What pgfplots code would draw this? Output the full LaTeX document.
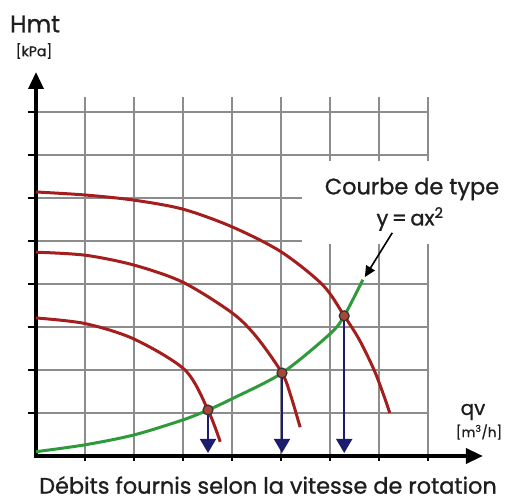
\documentclass[border=0pt]{standalone}
\usepackage{pgfplots}
\pgfplotsset{compat=1.18}
\usepackage{fontspec}
\setmainfont{Poppins}[FakeBold=1]
\usetikzlibrary{arrows.meta}
\definecolor{gridgray}{HTML}{8C8C8C}
\definecolor{pumpred}{HTML}{A51E1E}
\definecolor{curvegreen}{HTML}{2E9A3A}
\definecolor{navyarrow}{HTML}{1C1C6E}
\definecolor{ptfill}{HTML}{A6473A}
\definecolor{txt}{HTML}{1E1E1E}
\begin{document}
\begin{tikzpicture}[x=1bp,y=1bp]
\useasboundingbox (0,0) rectangle (509,502);
\begin{axis}[
  at={(36bp,46bp)}, anchor=south west, scale only axis,
  x=49bp, y=43bp, xmin=0, xmax=9.2, ymin=0, ymax=9,
  hide axis, clip=false,
]
% grid
\pgfplotsinvokeforeach{1,...,8}{
  \draw[gridgray, line width=2.2bp] (0,#1) -- (8,#1);
  \draw[gridgray, line width=2.2bp] (#1,0) -- (#1,8.35);
  \draw[black, line width=2.6bp] (-0.17,#1) -- (0,#1);
  \draw[black, line width=2.6bp] (#1,-0.12) -- (#1,0);
}
\fill[white] (5.43,4.92) rectangle (8.3,6.85);
% axes
\draw[black, line width=3.6bp, -{Triangle[length=17bp,width=15bp]}] (0,-0.04) -- (0,8.93);
\draw[black, line width=3.6bp, -{Triangle[length=17bp,width=15bp]}] (-0.04,0) -- (9.12,0);
% pump curves
\addplot[pumpred, line width=3bp, smooth] coordinates {(0,6.14)(1,6.07)(2,5.95)(3,5.74)(4,5.33)(5,4.75)(5.85,3.98)(6.29,3.26)(6.6,2.7)(6.9,2.0)(7.1,1.4)(7.22,1.0)};
\addplot[pumpred, line width=3bp, smooth] coordinates {(0,4.74)(1,4.67)(2,4.44)(3,4.04)(4,3.33)(4.5,2.77)(5.02,1.93)(5.2,1.4)(5.39,0.67)};
\addplot[pumpred, line width=3bp, smooth] coordinates {(0,3.21)(1,3.08)(2,2.72)(3.04,2.0)(3.51,1.07)(3.76,0.33)};
% system curve
\addplot[curvegreen, line width=3bp, smooth] coordinates {(0,0.1)(1,0.26)(2,0.49)(3,0.84)(3.51,1.07)(4,1.33)(5.02,1.93)(6,2.84)(6.29,3.26)(6.67,4.1)};
% flow arrows
\addplot[navyarrow, line width=1.8bp, -{Triangle[length=14bp,width=16bp]}] coordinates {(3.51,1.07)(3.51,0.07)};
\addplot[navyarrow, line width=1.8bp, -{Triangle[length=14bp,width=16bp]}] coordinates {(5.02,1.93)(5.02,0.07)};
\addplot[navyarrow, line width=1.8bp, -{Triangle[length=14bp,width=16bp]}] coordinates {(6.29,3.26)(6.29,0.07)};
% operating points
\addplot[only marks, mark=*, mark size=5bp, mark options={fill=ptfill, draw=black!80, line width=1.2bp}] coordinates {(3.51,1.07)(5.02,1.93)(6.29,3.26)};
% annotation arrow
\draw[black, line width=1.6bp, -{Triangle[length=11bp,width=10bp]}] (7.27,5.19) -- (6.71,4.16);
\end{axis}
\node[txt, font=\fontsize{24}{26}\selectfont] at (35,478) {Hmt};
\node[txt, font=\fontsize{14}{16}\selectfont] at (34,451) {[kPa]};
\node[txt, font=\fontsize{22.5}{25}\selectfont] at (412,313) {Courbe de type};
\node[txt, font=\fontsize{21}{24}\selectfont] at (410,283) {y\,=\,ax\textsuperscript{2}};
\node[txt, font=\fontsize{20}{22}\selectfont] at (473,90) {qv};
\node[txt, font=\fontsize{13.5}{15}\selectfont] at (479,70) {[m\textsuperscript{3}/h]};
\node[txt, font=\fontsize{22.5}{26}\selectfont] at (268,17) {Débits fournis selon la vitesse de rotation};
\end{tikzpicture}
\end{document}
